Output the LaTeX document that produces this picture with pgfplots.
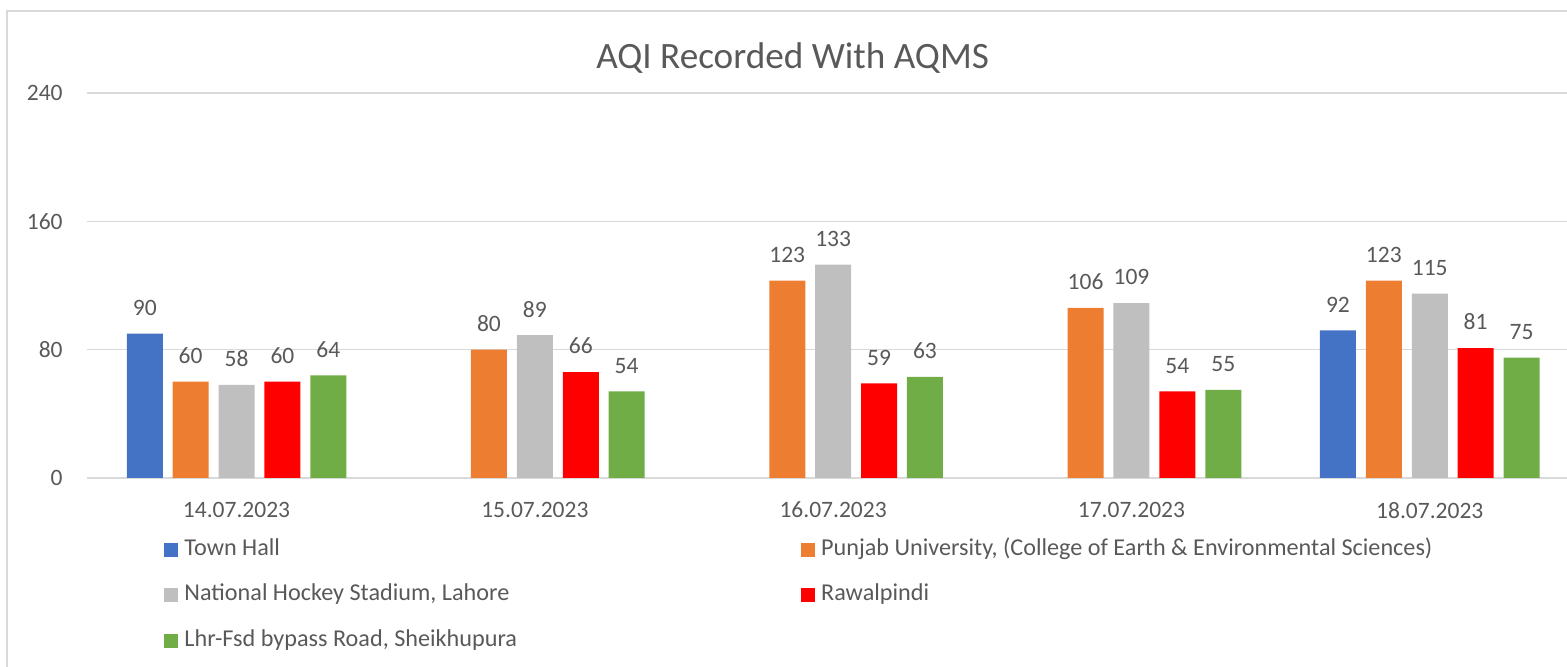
\documentclass[border=0pt]{standalone}
\usepackage{pgfplots}
\pgfplotsset{compat=1.18}
\usepackage{pgfplotstable}
\usepackage{fontspec}
\setmainfont{Carlito}
\definecolor{cblue}{HTML}{4472C4}
\definecolor{corange}{HTML}{ED7D31}
\definecolor{cgray}{HTML}{BFBFBF}
\definecolor{cred}{HTML}{FF0000}
\definecolor{cgreen}{HTML}{70AD47}
\definecolor{txt}{HTML}{595959}
\definecolor{gridc}{HTML}{D9D9D9}
\pgfplotstableread{
x TH PU NHS RW LF
0 90 60 58 60 64
1 nan 80 89 66 54
2 nan 123 133 59 63
3 nan 106 109 54 55
4 92 123 115 81 75
}\data
\newcommand{\lbl}{\fontsize{11.75}{14}\selectfont}
\newcommand{\lgd}{\fontsize{12.1}{14}\selectfont}
\begin{document}
\begin{tikzpicture}
\path[use as bounding box] (0,0) rectangle (783.5pt,333.5pt);
\clip (0,0) rectangle (783.5pt,333.5pt);
\draw[gridc, line width=0.75pt] (3.5pt,-20pt) rectangle (800pt,328pt);
\begin{axis}[
  at={(43.7pt,94.5pt)}, anchor=south west,
  scale only axis, width=745.75pt, height=192.5pt,
  xmin=-0.5, xmax=4.5, ymin=0, ymax=240,
  ytick={0,80,160,240},
  xtick={0,1,2,3,4},
  xticklabels={14.07.2023,15.07.2023,16.07.2023,17.07.2023,18.07.2023},
  /pgf/number format/assume math mode=true,
  axis line style={draw=none},
  major tick length=0pt,
  ymajorgrids,
  grid style={draw=gridc, line width=0.8pt},
  tick label style={font=\lbl, text=txt, inner sep=0pt},
  yticklabel style={anchor=east, xshift=-12.2pt},
  xticklabel style={anchor=north, yshift=-11.85pt},
  title={AQI Recorded With AQMS},
  every axis title shift=0pt,
  title style={at={(0.4728,1.0642)}, anchor=base, font=\fontsize{18.6}{22}\selectfont, text=txt, inner sep=0pt},
  ybar=4.95pt, bar width=18pt,
  every axis plot/.append style={draw=none},
  nodes near coords,
  nodes near coords style={font=\lbl, text=txt, inner sep=0pt, anchor=south, yshift=8.8pt},
  legend columns=2,
  legend cell align=left,
  legend image code/.code={\fill[#1] (0pt,-3.3pt) rectangle (7pt,3.7pt);},
  legend style={at={(0.0514,-0.158)}, anchor=north west, draw=none, fill=none,
    inner sep=0pt, font=\lgd, text=txt, row sep=11.75pt,
    nodes={inner sep=0pt, text height=8pt, text depth=3pt},
    /tikz/every odd column/.append style={column sep=3pt},
    /tikz/every even column/.append style={column sep=142pt}},
]
\addplot[fill=cblue] table[x=x,y=TH]{\data};
\addlegendentry{Town Hall}
\addplot[fill=corange] table[x=x,y=PU]{\data};
\addlegendentry{Punjab University, (College of Earth \& Environmental Sciences)}
\addplot[fill=cgray] table[x=x,y=NHS]{\data};
\addlegendentry{National Hockey Stadium, Lahore}
\addplot[fill=cred] table[x=x,y=RW]{\data};
\addlegendentry{Rawalpindi}
\addplot[fill=cgreen] table[x=x,y=LF]{\data};
\addlegendentry{Lhr-Fsd bypass Road, Sheikhupura}
\end{axis}
\end{tikzpicture}
\end{document}
